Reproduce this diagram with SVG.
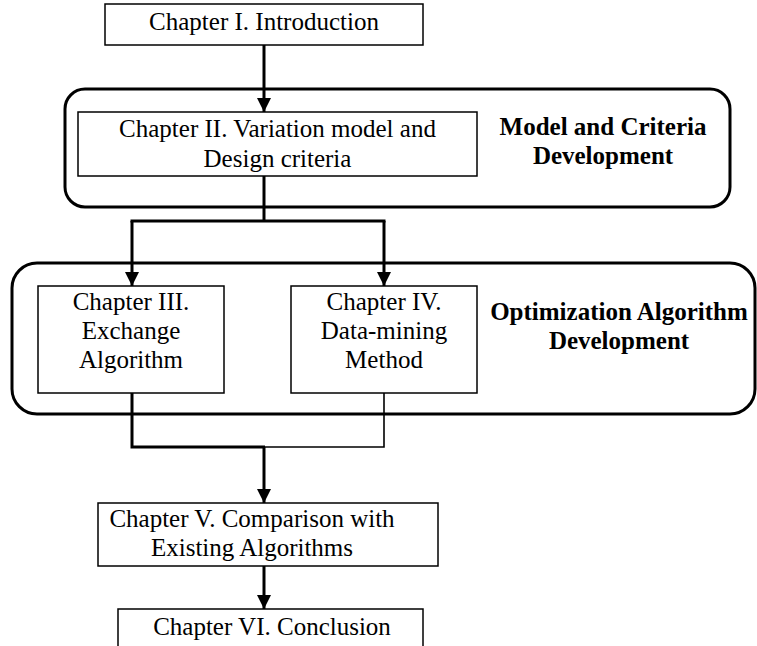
<svg xmlns="http://www.w3.org/2000/svg" width="757" height="646" viewBox="0 0 757 646">
  <style>
    .box { fill: #fff; stroke: #000; stroke-width: 1.5; }
    .group { fill: none; stroke: #000; stroke-width: 3; }
    .label { font-family: "Liberation Serif", "Times New Roman", serif; font-size: 25px; fill: #000; text-anchor: middle; }
    .title { font-family: "Liberation Serif", "Times New Roman", serif; font-size: 25px; font-weight: bold; fill: #000; text-anchor: middle; }
    .wire { fill: none; stroke: #000; stroke-width: 3; }
    .wire-thin { fill: none; stroke: #000; stroke-width: 1.6; }
  </style>
  <defs>
    <marker id="arrow" markerUnits="userSpaceOnUse" markerWidth="14" markerHeight="14" viewBox="0 0 14 14" refX="14" refY="7" orient="auto">
      <path d="M0,0 L14,7 L0,14 Z" fill="#000"/>
    </marker>
  </defs>

  <rect width="757" height="646" fill="#fff"/>

  <!-- phase groupings -->
  <g id="phase-model">
    <rect class="group" x="65" y="89" width="665" height="118" rx="20" ry="20"/>
    <text class="title" x="603" y="135">Model and Criteria</text>
    <text class="title" x="603" y="164">Development</text>
  </g>
  <g id="phase-optimization">
    <rect class="group" x="12" y="263" width="743" height="151" rx="25" ry="25"/>
    <text class="title" x="619" y="320">Optimization Algorithm</text>
    <text class="title" x="619" y="349">Development</text>
  </g>

  <!-- connectors -->
  <g id="connectors">
    <path class="wire" d="M264 45 V112" marker-end="url(#arrow)"/>
    <path class="wire" d="M264 176 V221"/>
    <path class="wire" d="M130.5 221 H385.5"/>
    <path class="wire" d="M132 221 V286" marker-end="url(#arrow)"/>
    <path class="wire" d="M384 221 V286" marker-end="url(#arrow)"/>
    <path class="wire" d="M132 393 V447 H265"/>
    <path class="wire-thin" d="M384 393 V447 H264"/>
    <path class="wire" d="M264 447 V503" marker-end="url(#arrow)"/>
    <path class="wire" d="M264 566 V609" marker-end="url(#arrow)"/>
  </g>

  <!-- chapters -->
  <g id="ch1">
    <rect class="box" x="105" y="4" width="318" height="41"/>
    <text class="label" x="264" y="30">Chapter I. Introduction</text>
  </g>
  <g id="ch2">
    <rect class="box" x="78" y="112" width="399" height="64"/>
    <text class="label" x="277.5" y="137">Chapter II. Variation model and</text>
    <text class="label" x="277.5" y="167">Design criteria</text>
  </g>
  <g id="ch3">
    <rect class="box" x="38" y="286" width="186" height="107"/>
    <text class="label" x="131" y="310">Chapter III.</text>
    <text class="label" x="131" y="339">Exchange</text>
    <text class="label" x="131" y="368">Algorithm</text>
  </g>
  <g id="ch4">
    <rect class="box" x="291" y="286" width="186" height="107"/>
    <text class="label" x="384" y="310">Chapter IV.</text>
    <text class="label" x="384" y="339">Data-mining</text>
    <text class="label" x="384" y="368">Method</text>
  </g>
  <g id="ch5">
    <rect class="box" x="98" y="503" width="340" height="63"/>
    <text class="label" x="252" y="527">Chapter V. Comparison with</text>
    <text class="label" x="252" y="556">Existing Algorithms</text>
  </g>
  <g id="ch6">
    <rect class="box" x="118" y="609" width="305" height="50"/>
    <text class="label" x="272" y="635">Chapter VI. Conclusion</text>
  </g>
</svg>
